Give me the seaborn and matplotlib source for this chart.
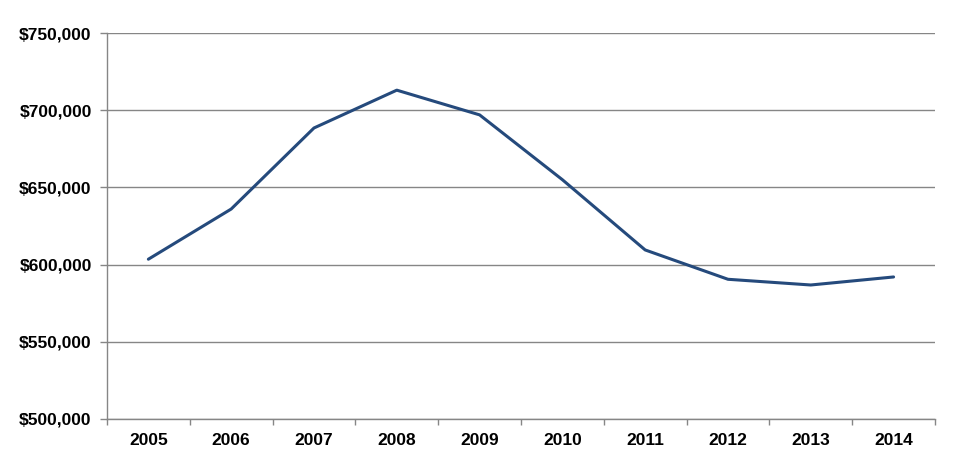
import numpy as np
import pandas as pd
import seaborn as sns
from matplotlib import pyplot as plt
from matplotlib.ticker import FuncFormatter, FixedLocator

years = ['2005', '2006', '2007', '2008', '2009', '2010', '2011', '2012', '2013', '2014']
values = [603500, 636000, 688500, 713000, 697000, 655000, 609500, 590500, 586800, 592000]
y_ticks = [500000, 550000, 600000, 650000, 700000, 750000]

df = pd.DataFrame({'year': years, 'value': values})

sns.set_style('white')
plt.rcParams['font.family'] = ['Liberation Sans', 'DejaVu Sans']
plt.rcParams['font.weight'] = 'bold'

fig = plt.figure(figsize=(9.56, 4.72), dpi=100)
ax = fig.add_axes([0.1119, 0.1123, 0.978 - 0.1119, 0.930 - 0.1123])

sns.lineplot(data=df, x='year', y='value', ax=ax, color='#254A7C', linewidth=2.2,
             sort=False)

grey = '#868686'
ax.set_ylim(500000, 750000)
ax.set_xlim(-0.5, len(years) - 0.5)
ax.set_yticks(y_ticks)
ax.yaxis.set_major_formatter(FuncFormatter(lambda v, p: '${:,.0f}'.format(v)))
ax.grid(axis='y', color=grey, linewidth=1.0)
ax.set_axisbelow(True)

ax.xaxis.set_minor_locator(FixedLocator(np.arange(-0.5, len(years), 1.0)))
ax.tick_params(axis='x', which='major', length=0, pad=10, labelsize=12.5, labelcolor='black')
ax.tick_params(axis='x', which='minor', length=4.5, width=1.0, color=grey, direction='out', bottom=True)
ax.tick_params(axis='y', which='major', length=5, width=1.0, color=grey, direction='out', left=True,
               pad=6, labelsize=12.5, labelcolor='black')

for s in ['top', 'right']:
    ax.spines[s].set_visible(False)
for s in ['left', 'bottom']:
    ax.spines[s].set_color(grey)
    ax.spines[s].set_linewidth(1.0)

ax.set_xlabel('')
ax.set_ylabel('')

plt.savefig('out.png', dpi=100)
